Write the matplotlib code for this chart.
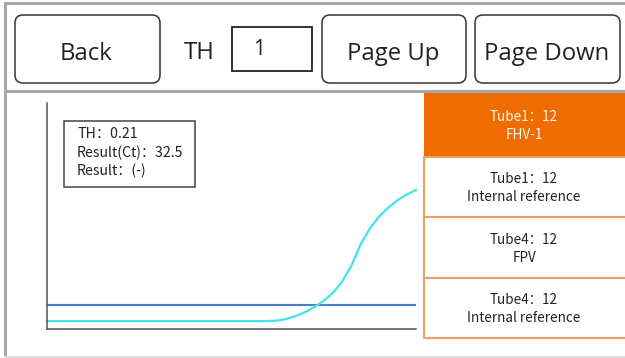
import matplotlib
matplotlib.use("Agg")
import matplotlib.pyplot as plt
from matplotlib.patches import FancyBboxPatch, Rectangle

plt.rcParams['font.family'] = ['Noto Sans CJK SC', 'DejaVu Sans']

# ---- data ----
cycles = list(range(0, 41))
fluorescence = [0.07] * 25 + [0.075, 0.09, 0.115, 0.15, 0.195, 0.25, 0.32, 0.42,
                              0.56, 0.75, 0.89, 0.995, 1.075, 1.14, 1.19, 1.23]
threshold = 0.21
info_lines = ["TH：0.21", "Result(Ct)：32.5", "Result：(-)"]
buttons = ["Back", "Page Up", "Page Down"]
th_label = "TH"
th_value = "1"
panel_titles = ["Tube1：12", "Tube1：12", "Tube4：12", "Tube4：12"]
panel_targets = ["FHV-1", "Internal reference", "FPV", "Internal reference"]

W, H = 625, 358
fig = plt.figure(figsize=(W / 100, H / 100), dpi=100)
ui = fig.add_axes([0, 0, 1, 1])
ui.set_xlim(0, W)
ui.set_ylim(H, 0)
ui.axis('off')

grey = '#a8a8a8'
orange = '#ee6c00'
light_orange = '#eea060'
btn_font = ['Open Sans', 'Noto Sans CJK SC']

# outer frame
ui.plot([5, 5], [3, 356], color=grey, lw=2.2)
ui.plot([5, 625], [3, 3], color=grey, lw=2.2)
ui.plot([5, 625], [91, 91], color=grey, lw=2.2)
ui.plot([5, 625], [356.5, 356.5], color='#dddddd', lw=1.5)

# buttons
btn_boxes = [(15, 160), (322, 466), (475, 620)]
for (x0, x1), lab in zip(btn_boxes, buttons):
    ui.add_patch(FancyBboxPatch((x0 + 8, 15 + 8), x1 - x0 - 16, 68 - 16,
                                boxstyle="round,pad=8", fc='white', ec='#333333', lw=1.1))
    ui.text((x0 + x1) / 2 - 1, 60, lab, ha='center', va='baseline', fontsize=17.2,
            color='#222222', family=btn_font)
ui.text(199, 59, th_label, ha='center', va='baseline', fontsize=17.2, color='#222222',
        family=btn_font)
ui.add_patch(Rectangle((232, 27), 80, 44, fc='white', ec='#222222', lw=1.3))
ui.text(259, 55, th_value, ha='center', va='baseline', fontsize=15, color='#222222',
        family=btn_font)

# right panel
px0, px1 = 424, 625
rows = [93, 157, 217, 278, 338]
ui.add_patch(Rectangle((px0, rows[0]), px1 - px0, rows[1] - rows[0], fc=orange, ec='none'))
ui.plot([px0, px0], [rows[1], rows[-1]], color=light_orange, lw=1.5)
for yy in rows[1:]:
    ui.plot([px0, px1], [yy, yy], color=light_orange, lw=1.5)
for i, (t, s) in enumerate(zip(panel_titles, panel_targets)):
    cy = (rows[i] + rows[i + 1]) / 2
    col = '#fff8f0' if i == 0 else '#222222'
    ui.text(524, cy - 8, t, ha='center', va='center', fontsize=9.7, color=col)
    ui.text(524, cy + 10, s, ha='center', va='center', fontsize=9.7, color=col)

# chart axes
ax_l, ax_r, ax_t, ax_b = 47, 416, 103, 329
ax = fig.add_axes([ax_l / W, (H - ax_b) / H, (ax_r - ax_l) / W, (ax_b - ax_t) / H])
ax.patch.set_alpha(0)
ax.set_xlim(0, 40)
ax.set_ylim(0, 2)
for sp in ['top', 'right']:
    ax.spines[sp].set_visible(False)
for sp in ['left', 'bottom']:
    ax.spines[sp].set_color('#555555')
    ax.spines[sp].set_linewidth(1.1)
ax.set_xticks([])
ax.set_yticks([])
ax.axhline(threshold, color='#4a80d0', lw=1.5)
ax.plot(cycles, fluorescence, color='#40e4ec', lw=1.6, clip_on=False)

# info box
ui.add_patch(Rectangle((64, 121), 131, 66, fc='white', ec='#444444', lw=1.1, zorder=5))
for i, line in enumerate(info_lines):
    ui.text(77, 134 + i * 18.5, line, ha='left', va='center', fontsize=10.2,
            color='#222222', zorder=6)

fig.savefig('out.png', dpi=100)
